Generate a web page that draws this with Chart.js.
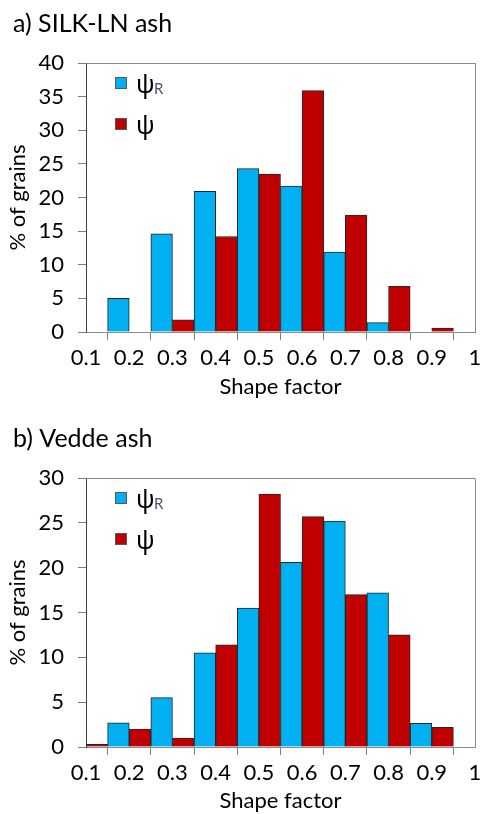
<!DOCTYPE html>
<html><head><meta charset="utf-8">
<script src="https://cdn.jsdelivr.net/npm/chart.js@4.4.1/dist/chart.umd.min.js"></script>
<style>
html,body{margin:0;padding:0;background:#fff;}
#wrap{position:relative;width:481px;height:814px;overflow:hidden;}
.c{position:absolute;left:0;}
canvas{display:block;}
</style></head><body>
<div id="wrap">
<div class="c" style="top:0"><canvas id="ca" width="481" height="400"></canvas></div>
<div class="c" style="top:400px"><canvas id="cb" width="481" height="414"></canvas></div>
</div>
<script>
// Bin centres (shape factor); each bin holds ψR (left half) and ψ (right half)
const binCenters = [0.1, 0.2, 0.3, 0.4, 0.5, 0.6, 0.7, 0.8, 0.9];
const xTickValues = [0.1, 0.2, 0.3, 0.4, 0.5, 0.6, 0.7, 0.8, 0.9, 1];

// a) SILK-LN ash
const silkPsiR = [0, 5.0, 14.6, 20.9, 24.3, 21.7, 11.9, 1.4, 0];
const silkPsi  = [0, 0, 1.8, 14.2, 23.5, 35.9, 17.4, 6.8, 0.6];
// b) Vedde ash
const veddePsiR = [0, 2.7, 5.5, 10.5, 15.5, 20.6, 25.2, 17.2, 2.65];
const veddePsi  = [0.3, 2.0, 1.0, 11.4, 28.2, 25.7, 17.0, 12.5, 2.2];

const seriesNames = ['ψR', 'ψ'];
const BLUE = '#00B0F0', RED = '#C00000';
const FONT = "Lato, 'Open Sans', 'DejaVu Sans', sans-serif";

function fmt(v){ return String(Number(Number(v).toFixed(1))); }

const framePlugin = {
  id: 'frame',
  afterDraw(chart, args, opts) {
    const ctx = chart.ctx, a = chart.chartArea;
    ctx.save();
    // top & right plot border
    ctx.strokeStyle = '#8a8a8a';
    ctx.lineWidth = 1;
    ctx.beginPath();
    ctx.moveTo(Math.round(a.left) , Math.round(a.top) + 0.5);
    ctx.lineTo(Math.round(a.right) + 0.5, Math.round(a.top) + 0.5);
    ctx.lineTo(Math.round(a.right) + 0.5, Math.round(a.bottom));
    ctx.stroke();
    // panel title
    ctx.fillStyle = '#000';
    ctx.font = "25px " + FONT;
    ctx.textBaseline = 'alphabetic';
    ctx.textAlign = 'left';
    ctx.fillText(opts.title, 13, opts.titleBaseline);
    // legend
    const colors = [BLUE, RED];
    for (let i = 0; i < 2; i++) {
      const sx = a.left + 29, sy = a.top + 14 + i * 41;
      ctx.fillStyle = colors[i];
      ctx.fillRect(sx, sy, 12, 12);
      ctx.strokeStyle = '#595959';
      ctx.strokeRect(sx + 0.5, sy + 0.5, 11, 11);
      ctx.fillStyle = '#000';
      ctx.font = "25px 'Noto Sans', 'DejaVu Sans', sans-serif";
      ctx.textBaseline = 'alphabetic';
      ctx.fillText('ψ', sx + 21, sy + 16);
      if (i === 0) {
        ctx.fillStyle = '#44546A';
        ctx.font = "15px " + FONT;
        ctx.fillText('R', sx + 39, sy + 17);
      }
    }
    ctx.restore();
  }
};

function makeChart(id, title, titleBaseline, psiR, psi, yMax, plotTop, plotBottom, H) {
  const mk = (vals) => binCenters.map((x, i) => ({x: x, y: vals[i]}));
  return new Chart(document.getElementById(id), {
    type: 'bar',
    data: {
      datasets: [
        {label: seriesNames[0], data: mk(psiR), backgroundColor: BLUE, borderColor: '#262626', borderWidth: 1, barPercentage: 1, categoryPercentage: 1},
        {label: seriesNames[1], data: mk(psi), backgroundColor: RED, borderColor: '#262626', borderWidth: 1, barPercentage: 1, categoryPercentage: 1}
      ]
    },
    options: {
      responsive: false,
      animation: false,
      layout: {padding: {top: plotTop, right: 6, left: 0, bottom: 0}},
      plugins: {
        legend: {display: false},
        tooltip: {enabled: false},
        title: {display: false},
        frame: {title: title, titleBaseline: titleBaseline}
      },
      scales: {
        x: {
          type: 'linear', min: 0.1, max: 1, offset: false,
          afterBuildTicks: s => { s.ticks = xTickValues.map(v => ({value: v})); },
          ticks: {callback: v => fmt(v), font: {family: FONT, size: 22}, color: '#000', padding: 5, maxRotation: 0, autoSkip: false},
          grid: {drawOnChartArea: false, drawTicks: true, tickLength: 8, color: '#7f7f7f'},
          border: {color: '#8a8a8a', width: 1},
          title: {display: true, text: 'Shape factor', font: {family: FONT, size: 22}, color: '#000', padding: {top: 0, bottom: 0}},
          afterFit: s => { s.height = H - plotBottom; s.paddingLeft = 0; s.paddingRight = 0; }
        },
        y: {
          min: 0, max: yMax,
          ticks: {stepSize: 5, font: {family: FONT, size: 22}, color: '#000', padding: 14},
          grid: {drawOnChartArea: false, drawTicks: true, tickLength: 8, color: '#7f7f7f'},
          border: {color: '#404040', width: 1},
          title: {display: true, text: '% of grains', font: {family: FONT, size: 22}, color: '#000', padding: {top: 5, bottom: 0}},
          afterFit: s => { s.width = 86; s.paddingTop = 0; s.paddingBottom = 0; }
        }
      }
    },
    plugins: [framePlugin]
  });
}

makeChart('ca', 'a) SILK-LN ash', 32, silkPsiR, silkPsi, 40, 63, 332, 400);
makeChart('cb', 'b) Vedde ash', 47, veddePsiR, veddePsi, 30, 78, 347, 414);
</script>
</body></html>
